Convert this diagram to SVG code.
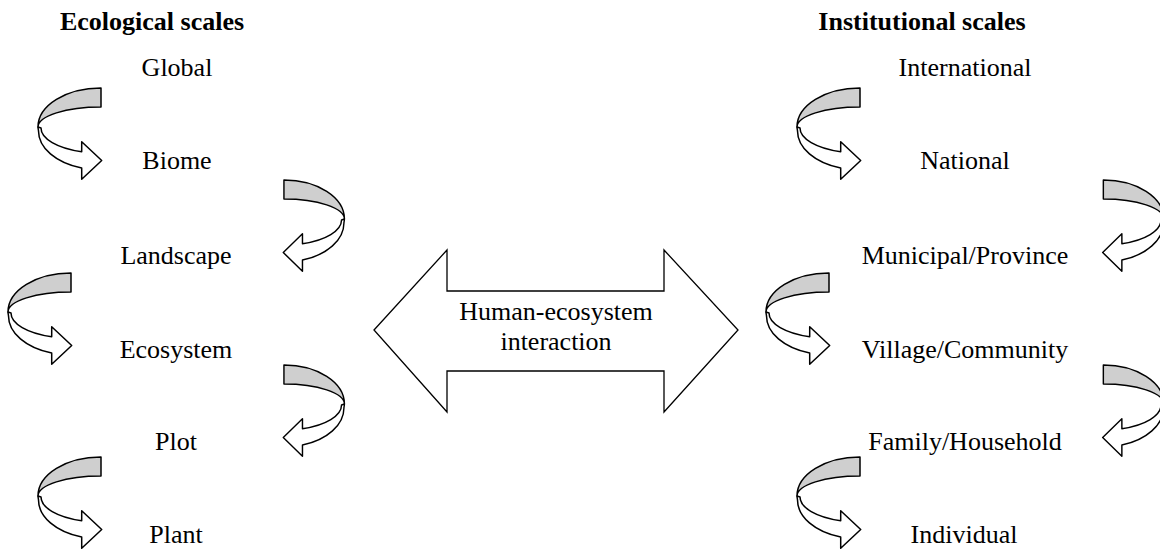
<svg xmlns="http://www.w3.org/2000/svg" xmlns:xlink="http://www.w3.org/1999/xlink" width="1160" height="549" viewBox="0 0 1160 549">
<style>
text{font-family:"Liberation Serif","Times New Roman",serif;font-size:26px;fill:#000;text-anchor:middle}
.title{font-weight:bold}
.band{stroke:#000;stroke-width:1.5;stroke-linejoin:round}
.back{fill:#cfcfcf}
.front{fill:#fff}
.big{fill:#fff;stroke:#000;stroke-width:1.3}
</style>
<defs>
<g id="curl">
<path class="band back" d="M101,88 A63,39 0 0 0 38,127 A63,20 0 0 1 101,107 Z"/>
<path class="band front" d="M38,127 C38,129 38.5,130 38.5,131 A62.5,39 0 0 0 81.7,168.1 L81.7,179.3 L101.7,160.5 L81.7,141.7 L81.7,151.7 A60,25 0 0 1 41,128 Z"/>
</g>
</defs>
<rect width="1160" height="549" fill="#fff"/>
<g id="connectors">
<use xlink:href="#curl"/>
<use xlink:href="#curl" transform="matrix(-0.96 0 0 1 380.9 92)"/>
<use xlink:href="#curl" transform="translate(-30,185)"/>
<use xlink:href="#curl" transform="matrix(-0.96 0 0 1 380.9 277)"/>
<use xlink:href="#curl" transform="translate(0,369)"/>
<use xlink:href="#curl" transform="translate(759,0)"/>
<use xlink:href="#curl" transform="matrix(-0.96 0 0 1 1200.3 92)"/>
<use xlink:href="#curl" transform="translate(728,185)"/>
<use xlink:href="#curl" transform="matrix(-0.96 0 0 1 1200.3 277)"/>
<use xlink:href="#curl" transform="translate(759,369)"/>
</g>
<g id="interaction">
<polygon class="big" points="374,330 447,250 447,291 664,291 664,250 738,330 664,412 664,371 447,371 447,412"/>
<text x="556" y="320">Human-ecosystem</text>
<text x="556" y="350">interaction</text>
</g>
<g id="title-ecological"><text class="title" x="152" y="30">Ecological scales</text></g>
<g id="title-institutional"><text class="title" x="922" y="30">Institutional scales</text></g>
<g id="global"><text x="177" y="76">Global</text></g>
<g id="biome"><text x="177" y="169">Biome</text></g>
<g id="landscape"><text x="176" y="264">Landscape</text></g>
<g id="ecosystem"><text x="176" y="358">Ecosystem</text></g>
<g id="plot"><text x="176" y="450">Plot</text></g>
<g id="plant"><text x="176" y="543">Plant</text></g>
<g id="international"><text x="965" y="76">International</text></g>
<g id="national"><text x="965" y="169">National</text></g>
<g id="municipal"><text x="965" y="264">Municipal/Province</text></g>
<g id="village"><text x="965" y="358">Village/Community</text></g>
<g id="family"><text x="965" y="450">Family/Household</text></g>
<g id="individual"><text x="964" y="543">Individual</text></g>
</svg>
